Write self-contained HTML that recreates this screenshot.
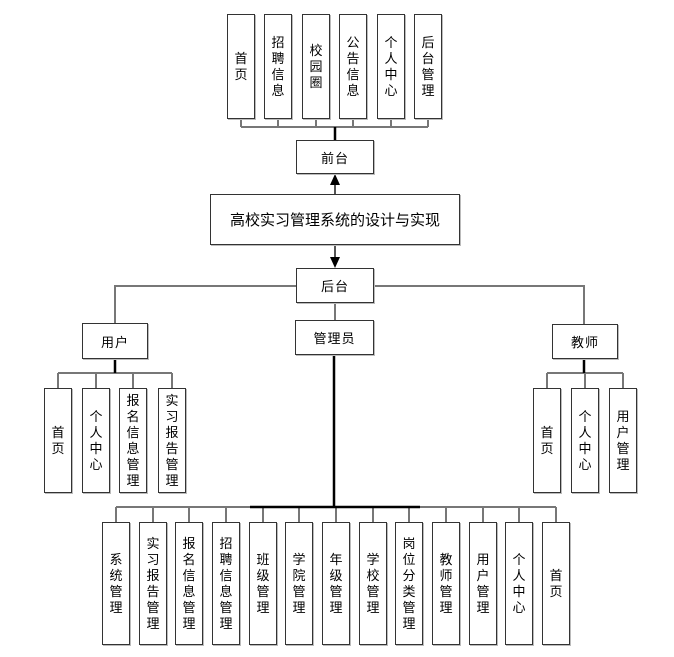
<!DOCTYPE html>
<html><head><meta charset="utf-8"><style>
body{margin:0;background:#fff;width:674px;height:657px;position:relative;overflow:hidden;font-family:"Liberation Sans","Noto Sans CJK SC",sans-serif;}
.b{position:absolute;box-sizing:border-box;border:1.5px solid #333;background:#fff;display:flex;align-items:center;justify-content:center;font-size:13px;color:#000;box-shadow:1px 1px 0 #bbb;}
.v span{width:13px;line-height:16px;text-align:center;word-break:break-all;}
.h{letter-spacing:1px;}
svg{position:absolute;left:0;top:0;}
</style></head><body>
<svg width="674" height="657">
<g stroke="#777" stroke-width="2" fill="none">
<path d="M241 119V127M278 119V127M316 119V127M353 119V127M391 119V127M428 119V127M241 127H428"/>
<path d="M115 323V286H296M374 286H584V324"/>
<path d="M335 303V320"/>
<path d="M58 373V388M96 373V388M133 373V388M172 373V388M58 373H172"/>
<path d="M547 373V388M585 373V388M623 373V388M547 373H623"/>
<path d="M116 507V522M153 507V522M189 507V522M226 507V522M263 507V522M299 507V522M336 507V522M373 507V522M409 507V522M446 507V522M483 507V522M519 507V522M556 507V522M116 507H556"/>
</g>
<g stroke="#000" stroke-width="2.5" fill="none">
<path d="M335 127V140"/>
<path d="M115 359V373"/>
<path d="M584 359V373"/>
<path d="M334 355V507"/>
<path d="M250 507H420"/>
</g>
<g stroke="#555" stroke-width="2"><path d="M335 194V184M335 245V258"/></g>
<polygon points="335,174 330,185 340,185" fill="#000"/>
<polygon points="335,268 330,257 340,257" fill="#000"/>
</svg>

<div class="b v" style="left:227px;top:14px;width:28px;height:105px"><span>首页</span></div>
<div class="b v" style="left:264px;top:14px;width:28px;height:105px"><span>招聘信息</span></div>
<div class="b v" style="left:302px;top:14px;width:28px;height:105px"><span>校园圈</span></div>
<div class="b v" style="left:339px;top:14px;width:28px;height:105px"><span>公告信息</span></div>
<div class="b v" style="left:377px;top:14px;width:28px;height:105px"><span>个人中心</span></div>
<div class="b v" style="left:414px;top:14px;width:28px;height:105px"><span>后台管理</span></div>

<div class="b h" style="left:296px;top:140px;width:78px;height:34px">前台</div>
<div class="b" style="left:210px;top:194px;width:250px;height:51px;font-size:15px">高校实习管理系统的设计与实现</div>
<div class="b h" style="left:296px;top:268px;width:78px;height:35px">后台</div>
<div class="b h" style="left:82px;top:323px;width:66px;height:36px">用户</div>
<div class="b h" style="left:295px;top:320px;width:79px;height:35px">管理员</div>
<div class="b h" style="left:552px;top:324px;width:66px;height:35px">教师</div>

<div class="b v" style="left:44px;top:388px;width:28px;height:105px"><span>首页</span></div>
<div class="b v" style="left:82px;top:388px;width:28px;height:105px"><span>个人中心</span></div>
<div class="b v" style="left:119px;top:388px;width:28px;height:105px"><span>报名信息管理</span></div>
<div class="b v" style="left:158px;top:388px;width:28px;height:105px"><span>实习报告管理</span></div>

<div class="b v" style="left:533px;top:388px;width:28px;height:105px"><span>首页</span></div>
<div class="b v" style="left:571px;top:388px;width:28px;height:105px"><span>个人中心</span></div>
<div class="b v" style="left:609px;top:388px;width:28px;height:105px"><span>用户管理</span></div>

<div class="b v" style="left:102px;top:522px;width:28px;height:123px"><span>系统管理</span></div>
<div class="b v" style="left:139px;top:522px;width:28px;height:123px"><span>实习报告管理</span></div>
<div class="b v" style="left:175px;top:522px;width:28px;height:123px"><span>报名信息管理</span></div>
<div class="b v" style="left:212px;top:522px;width:28px;height:123px"><span>招聘信息管理</span></div>
<div class="b v" style="left:249px;top:522px;width:28px;height:123px"><span>班级管理</span></div>
<div class="b v" style="left:285px;top:522px;width:28px;height:123px"><span>学院管理</span></div>
<div class="b v" style="left:322px;top:522px;width:28px;height:123px"><span>年级管理</span></div>
<div class="b v" style="left:359px;top:522px;width:28px;height:123px"><span>学校管理</span></div>
<div class="b v" style="left:395px;top:522px;width:28px;height:123px"><span>岗位分类管理</span></div>
<div class="b v" style="left:432px;top:522px;width:28px;height:123px"><span>教师管理</span></div>
<div class="b v" style="left:469px;top:522px;width:28px;height:123px"><span>用户管理</span></div>
<div class="b v" style="left:505px;top:522px;width:28px;height:123px"><span>个人中心</span></div>
<div class="b v" style="left:542px;top:522px;width:28px;height:123px"><span>首页</span></div>
</body></html>
